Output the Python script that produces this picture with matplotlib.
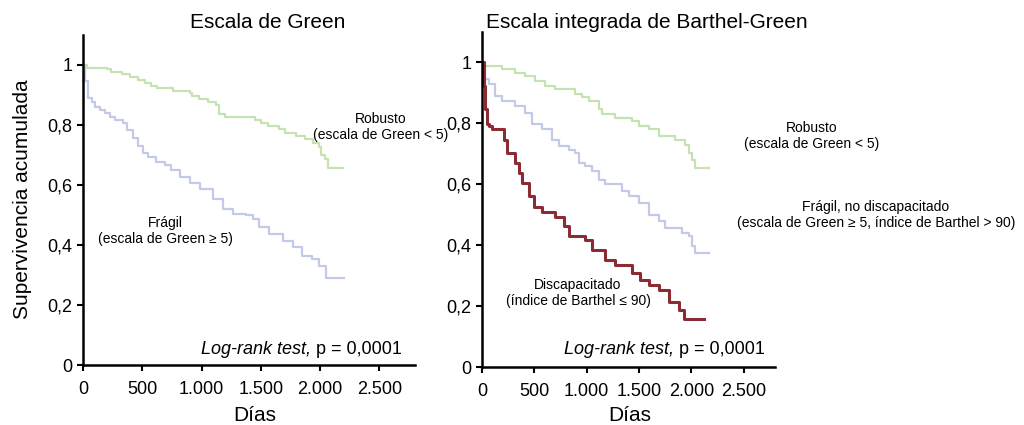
import matplotlib
matplotlib.use("Agg")
import matplotlib.pyplot as plt

plt.rcParams['font.family'] = ['Liberation Sans', 'DejaVu Sans']

# Escala de Green (left panel)
green_rob_days = [0, 30, 200, 240, 330, 400, 460, 520, 570, 620, 760, 900, 920, 980, 1050, 1120,
                  1150, 1200, 1450, 1500, 1560, 1650, 1700, 1800, 1870, 1940, 1990, 2010, 2040, 2070, 2190]
green_rob_surv = [1.0, 0.99, 0.985, 0.978, 0.97, 0.96, 0.95, 0.94, 0.93, 0.922, 0.914, 0.905, 0.895, 0.887, 0.878, 0.866,
                  0.835, 0.826, 0.815, 0.808, 0.797, 0.785, 0.773, 0.762, 0.752, 0.74, 0.725, 0.70, 0.685, 0.655, 0.655]

green_fra_days = [0, 17, 45, 73, 100, 143, 185, 227, 269, 339, 367, 423, 465, 507, 549, 619, 689, 745,
                  815, 899, 983, 1095, 1179, 1263, 1375, 1431, 1487, 1571, 1683, 1767, 1851, 1935, 1991, 2047, 2200]
green_fra_surv = [1.0, 0.945, 0.889, 0.877, 0.86, 0.85, 0.839, 0.828, 0.816, 0.805, 0.783, 0.755, 0.73, 0.705, 0.693, 0.677, 0.665, 0.65,
                  0.625, 0.605, 0.587, 0.554, 0.52, 0.503, 0.5, 0.487, 0.46, 0.436, 0.413, 0.392, 0.362, 0.352, 0.33, 0.29, 0.29]

# Escala integrada de Barthel-Green (right panel)
bg_rob_days = [0, 32, 191, 318, 414, 510, 605, 701, 892, 955, 1019, 1115, 1147, 1274, 1433, 1497,
               1592, 1688, 1847, 1943, 1975, 2006, 2038, 2166]
bg_rob_surv = [1.0, 0.989, 0.978, 0.967, 0.956, 0.94, 0.923, 0.912, 0.896, 0.885, 0.874, 0.846, 0.83, 0.819, 0.808, 0.79,
               0.78, 0.758, 0.747, 0.73, 0.703, 0.68, 0.654, 0.654]

bg_fra_days = [0, 10, 64, 127, 191, 318, 414, 478, 573, 669, 733, 828, 892, 924, 987, 1051, 1115, 1178,
               1338, 1401, 1497, 1592, 1688, 1752, 1911, 1975, 2006, 2038, 2166]
bg_fra_surv = [1.0, 0.945, 0.93, 0.89, 0.874, 0.857, 0.835, 0.797, 0.78, 0.747, 0.725, 0.714, 0.703, 0.67, 0.659, 0.643, 0.615, 0.6,
               0.577, 0.56, 0.538, 0.5, 0.478, 0.456, 0.44, 0.43, 0.396, 0.374, 0.374]

bg_dis_days = [0, 16, 32, 48, 64, 96, 207, 239, 318, 350, 382, 446, 494, 573, 701, 780, 828, 987, 1051,
               1178, 1274, 1433, 1513, 1592, 1688, 1783, 1879, 1927, 2118]
bg_dis_surv = [1.0, 0.923, 0.846, 0.797, 0.791, 0.78, 0.747, 0.703, 0.67, 0.637, 0.604, 0.56, 0.527, 0.51, 0.494, 0.462, 0.429, 0.418, 0.385,
               0.352, 0.335, 0.308, 0.286, 0.269, 0.253, 0.214, 0.187, 0.159, 0.159]

xticks = [0, 500, 1000, 1500, 2000, 2500]
xtick_labels = ['0', '500', '1.000', '1.500', '2.000', '2.500']
yticks = [0, 0.2, 0.4, 0.6, 0.8, 1.0]
ytick_labels = ['0', '0,2', '0,4', '0,6', '0,8', '1']

C_GREEN = '#c5e2b2'
C_BLUE = '#c4c9e7'
C_RED = '#8b2c35'

W, H = 1024, 425
fig = plt.figure(figsize=(W / 100, H / 100), dpi=100)


def px(x, y):
    return x / W, 1 - y / H


def make_axes(left, right, bottom, top):
    ax = fig.add_axes([left / W, 1 - bottom / H, (right - left) / W, (bottom - top) / H])
    ax.set_xlim(0, 2800)
    ax.set_ylim(0, 1.1)
    for s in ['top', 'right']:
        ax.spines[s].set_visible(False)
    for s in ['left', 'bottom']:
        ax.spines[s].set_linewidth(1.8)
    ax.set_xticks(xticks)
    ax.set_xticklabels(xtick_labels)
    ax.set_yticks(yticks)
    ax.set_yticklabels(ytick_labels)
    ax.tick_params(direction='out', length=4.5, width=1.5, labelsize=13)
    ax.tick_params(axis='x', pad=7)
    ax.tick_params(axis='y', pad=3)
    return ax


ax1 = make_axes(83, 415, 365, 35)
ax1.step(green_rob_days, green_rob_surv, where='post', color=C_GREEN, lw=1.6)
ax1.step(green_fra_days, green_fra_surv, where='post', color=C_BLUE, lw=1.6)

ax2 = make_axes(482, 775, 367, 32)
ax2.step(bg_rob_days, bg_rob_surv, where='post', color=C_GREEN, lw=1.6)
ax2.step(bg_fra_days, bg_fra_surv, where='post', color=C_BLUE, lw=1.6)
ax2.step(bg_dis_days, bg_dis_surv, where='post', color=C_RED, lw=2.2)

# axis labels and titles
fig.text(*px(23, 199), 'Supervivencia acumulada', rotation=90, ha='center', va='center', fontsize=15)
fig.text(*px(255, 406), 'Días', ha='center', va='top', fontsize=15)
fig.text(*px(630, 406), 'Días', ha='center', va='top', fontsize=15)
fig.text(*px(268, 22), 'Escala de Green', ha='center', va='center', fontsize=15)
fig.text(*px(647, 22), 'Escala integrada de Barthel-Green', ha='center', va='center', fontsize=15)

notes = [
    (381, 127, 'Robusto\n(escala de Green < 5)'),
    (165, 231, 'Frágil\n(escala de Green ≥ 5)'),
    (812, 136, 'Robusto\n(escala de Green < 5)'),
    (876, 215, 'Frágil, no discapacitado\n(escala de Green ≥ 5, índice de Barthel > 90)'),
    (578, 293, 'Discapacitado\n(índice de Barthel ≤ 90)'),
]
for x, y, t in notes:
    fig.text(*px(x, y), t, ha='center', va='center', fontsize=10, linespacing=1.1)

# log-rank annotation: italic part + regular part
fig.canvas.draw()
r = fig.canvas.get_renderer()
for xr in [402, 765]:
    t2 = fig.text(*px(xr, 350), ' p = 0,0001', ha='right', va='center', fontsize=13)
    bb = t2.get_window_extent(renderer=r)
    fig.text(bb.x0 / W, 1 - 350 / H, 'Log-rank test,', ha='right', va='center',
             fontsize=13, style='italic')

fig.savefig('out.png', dpi=100)
